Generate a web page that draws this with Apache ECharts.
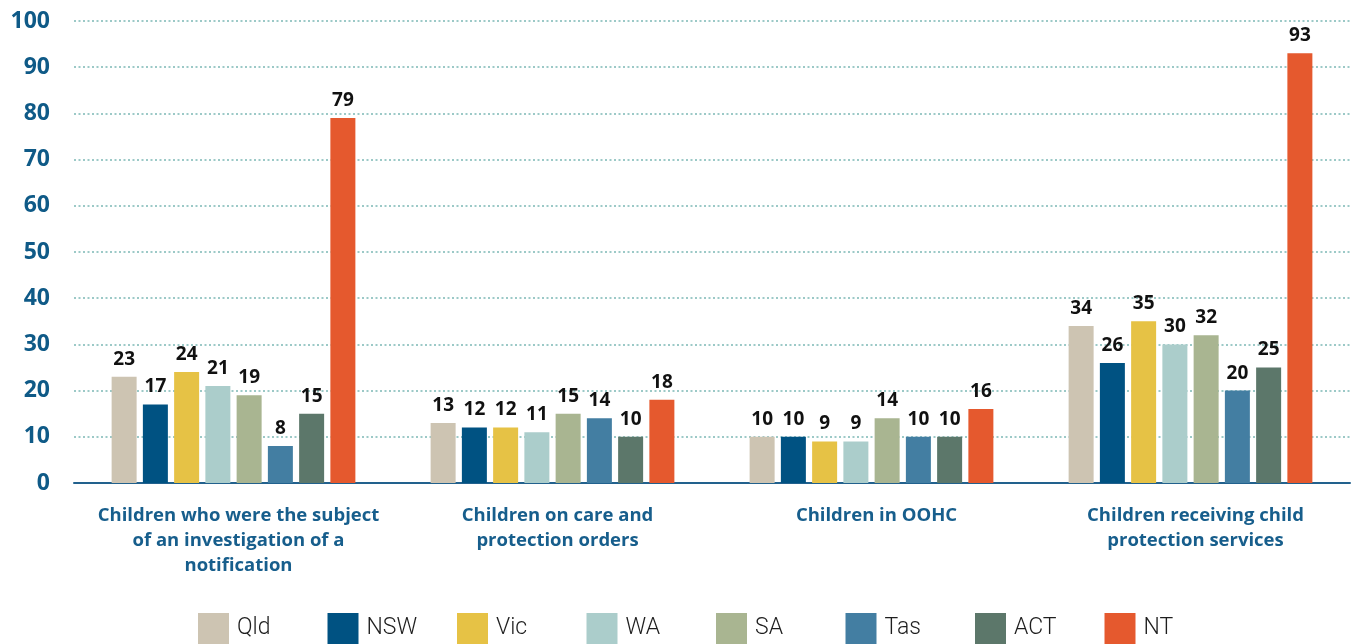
<!DOCTYPE html>
<html>
<head>
<meta charset="utf-8">
<script src="https://cdn.jsdelivr.net/npm/echarts@6/dist/echarts.min.js"></script>
<style>
  html, body { margin: 0; padding: 0; background: #ffffff; }
  #chart { width: 1354px; height: 644px; }
</style>
</head>
<body>
<div id="chart"></div>
<script>
// Rates per 1,000 children, by jurisdiction and measure
const categories = [
  'Children who were the subject\nof an investigation of a\nnotification',
  'Children on care and\nprotection orders',
  'Children in OOHC',
  'Children receiving child\nprotection services'
];
const jurisdictions = ['Qld', 'NSW', 'Vic', 'WA', 'SA', 'Tas', 'ACT', 'NT'];
const qld = [23, 13, 10, 34];
const nsw = [17, 12, 10, 26];
const vic = [24, 12, 9, 35];
const wa  = [21, 11, 9, 30];
const sa  = [19, 15, 14, 32];
const tas = [8, 14, 10, 20];
const act = [15, 10, 10, 25];
const nt  = [79, 18, 16, 93];
const colors = ['#cdc4b2', '#005282', '#e6c245', '#abcdcb', '#a9b591', '#437ea2', '#5c776a', '#e5592e'];

const seriesValues = [qld, nsw, vic, wa, sa, tas, act, nt];
const fontFamily = '"Open Sans", "Noto Sans", sans-serif';

// one legend entry per jurisdiction, laid out on an even pitch
const legends = jurisdictions.map((name, i) => ({
  data: [name],
  left: 193 + i * 129.5,
  top: 608,
  itemWidth: 31,
  itemHeight: 31,
  icon: 'rect',
  selectedMode: false,
  textStyle: {
    fontFamily: 'Roboto, "Noto Sans", sans-serif',
    fontWeight: 300,
    fontSize: 23,
    color: '#1e1e1e',
    padding: [0, 0, 0, 3]
  }
}));

const chart = echarts.init(document.getElementById('chart'));
chart.setOption({
  animation: false,
  color: colors,
  grid: { left: 74, right: 4, top: 21, bottom: 161, containLabel: false },
  legend: legends,
  xAxis: {
    type: 'category',
    data: categories,
    axisLine: { lineStyle: { color: '#22618d', width: 2 } },
    axisTick: { show: false },
    axisLabel: {
      interval: 0,
      margin: 20,
      padding: [0, 0, 0, 10],
      color: '#175e8c',
      fontFamily: fontFamily,
      fontWeight: 'bold',
      fontSize: 18.5,
      lineHeight: 25
    }
  },
  yAxis: {
    type: 'value',
    min: 0,
    max: 100,
    interval: 10,
    axisLine: { show: false },
    axisTick: { show: false },
    axisLabel: {
      margin: 24,
      color: '#0f5a87',
      fontFamily: fontFamily,
      fontWeight: 'bold',
      fontSize: 23
    },
    splitLine: { lineStyle: { color: '#9cc9c7', type: [2, 2.5], width: 2 } }
  },
  series: jurisdictions.map((name, i) => ({
    name: name,
    type: 'bar',
    data: seriesValues[i],
    barWidth: 25,
    barGap: '25%',
    itemStyle: { color: colors[i] },
    label: {
      show: true,
      position: 'top',
      distance: 8,
      color: '#111111',
      fontFamily: fontFamily,
      fontWeight: 'bold',
      fontSize: 19
    }
  }))
});
</script>
</body>
</html>
